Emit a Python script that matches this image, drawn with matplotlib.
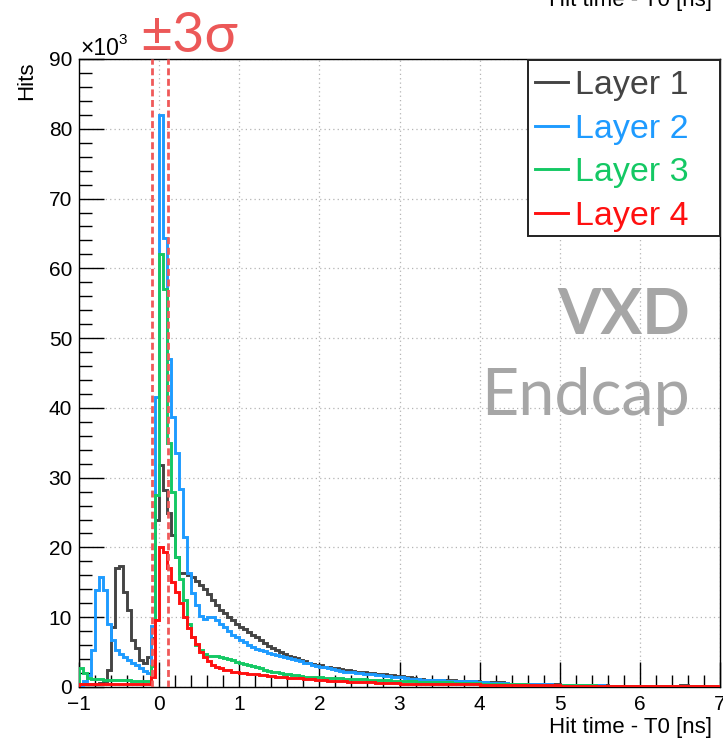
import numpy as np
import matplotlib
matplotlib.use("Agg")
import matplotlib.pyplot as plt
from matplotlib.ticker import MultipleLocator
from matplotlib.patches import Rectangle
from matplotlib.lines import Line2D

# ---------------- data (hits in units of 10^3, 160 bins of 0.05 ns) ----------------
x_min, x_max, n_bins = -1.0, 7.0, 160

layer1 = [0.5, 0.5, 0.5, 0.5, 0.5, 0.6, 0.8, 2.5, 8.6, 17.0,
          17.3, 13.6, 11.0, 6.7, 5.6, 3.9, 3.4, 4.3, 7.0, 24.0,
          31.8, 28.2, 25.0, 21.8, 18.6, 16.3, 16.3, 16.0, 15.8, 15.2,
          14.6, 14.0, 13.3, 12.4, 11.7, 11.1, 10.6, 10.1, 9.6, 9.1,
          8.6, 8.3, 7.9, 7.5, 7.1, 6.7, 6.3, 5.9, 5.6, 5.3,
          5.0, 4.7, 4.5, 4.3, 4.1, 3.9, 3.7, 3.5, 3.3, 3.2,
          3.1, 2.9, 2.8, 2.7, 2.7, 2.6, 2.5, 2.4, 2.3, 2.2,
          2.2, 2.1, 2.0, 2.0, 1.9, 1.8, 1.8, 1.7, 1.7, 1.6,
          1.6, 1.5, 1.4, 1.3, 1.2, 1.1, 1.05, 1.0, 1.0, 1.0,
          1.0, 0.95, 0.95, 0.95, 0.9, 0.9, 0.9, 0.85, 0.85, 0.8,
          0.75, 0.7, 0.7, 0.7, 0.65, 0.65, 0.6, 0.5, 0.5, 0.5,
          0.45, 0.45, 0.45, 0.45, 0.45, 0.4, 0.4, 0.4, 0.4, 0.4,
          0.35, 0.35, 0.3, 0.3, 0.3, 0.3, 0.3, 0.3, 0.3, 0.3,
          0.25, 0.25, 0.2, 0.2, 0.2, 0.2, 0.2, 0.2, 0.2, 0.2,
          0.2, 0.2, 0.2, 0.2, 0.2, 0.2, 0.2, 0.15, 0.15, 0.15,
          0.3, 0.3, 0.15, 0.15, 0.15, 0.1, 0.1, 0.1, 0.1, 0.1]

layer2 = [0.3, 0.8, 1.7, 5.3, 13.9, 15.8, 13.9, 9.0, 6.7, 5.3,
          4.8, 4.3, 3.9, 3.5, 3.1, 2.7, 2.3, 2.0, 8.8, 41.5,
          82.0, 64.3, 47.0, 38.7, 33.5, 28.4, 21.5, 16.3, 13.5, 11.8,
          10.2, 9.7, 10.1, 10.0, 9.6, 9.1, 8.6, 8.0, 7.5, 7.1,
          6.7, 6.4, 6.0, 5.7, 5.5, 5.3, 5.1, 4.9, 4.7, 4.6,
          4.4, 4.3, 4.1, 4.0, 3.9, 3.7, 3.5, 3.4, 3.2, 3.0,
          2.9, 2.8, 2.7, 2.6, 2.4, 2.3, 2.2, 2.1, 2.1, 2.0,
          2.0, 1.9, 1.9, 1.8, 1.7, 1.7, 1.6, 1.6, 1.5, 1.5,
          1.4, 1.3, 1.2, 1.1, 1.1, 1.05, 1.0, 1.0, 1.0, 0.95,
          0.95, 0.9, 0.9, 0.9, 0.85, 0.85, 0.8, 0.8, 0.8, 0.75,
          0.7, 0.65, 0.6, 0.6, 0.6, 0.55, 0.55, 0.5, 0.5, 0.45,
          0.45, 0.45, 0.45, 0.4, 0.4, 0.4, 0.4, 0.4, 0.35, 0.35,
          0.35, 0.3, 0.3, 0.3, 0.3, 0.3, 0.3, 0.25, 0.25, 0.25,
          0.25, 0.2, 0.2, 0.2, 0.2, 0.2, 0.2, 0.2, 0.2, 0.2,
          0.2, 0.2, 0.15, 0.15, 0.15, 0.15, 0.15, 0.1, 0.1, 0.1,
          0.1, 0.1, 0.1, 0.1, 0.1, 0.1, 0.1, 0.1, 0.1, 0.1]

layer3 = [2.7, 2.0, 1.3, 1.2, 1.1, 1.1, 1.0, 1.0, 1.0, 1.0,
          1.0, 0.95, 0.95, 0.9, 0.9, 0.9, 0.9, 0.9, 3.0, 27.5,
          62.0, 57.0, 35.0, 28.0, 18.6, 15.5, 12.5, 9.0, 7.2, 6.0,
          5.3, 4.8, 4.5, 4.4, 4.4, 4.3, 4.2, 4.0, 3.8, 3.6,
          3.4, 3.3, 3.1, 3.0, 2.8, 2.7, 2.5, 2.3, 2.2, 2.1,
          2.0, 1.9, 1.8, 1.7, 1.65, 1.6, 1.5, 1.5, 1.45, 1.4,
          1.4, 1.35, 1.3, 1.3, 1.3, 1.25, 1.2, 1.2, 1.15, 1.1,
          1.1, 1.1, 1.05, 1.0, 1.0, 1.0, 0.95, 0.95, 0.9, 0.9,
          0.9, 0.85, 0.8, 0.8, 0.75, 0.75, 0.7, 0.7, 0.7, 0.7,
          0.65, 0.65, 0.65, 0.6, 0.6, 0.6, 0.6, 0.6, 0.55, 0.55,
          0.5, 0.5, 0.5, 0.5, 0.45, 0.45, 0.45, 0.4, 0.4, 0.4,
          0.4, 0.4, 0.35, 0.35, 0.35, 0.35, 0.35, 0.35, 0.3, 0.3,
          0.3, 0.3, 0.3, 0.3, 0.25, 0.25, 0.25, 0.25, 0.25, 0.2,
          0.2, 0.2, 0.2, 0.2, 0.2, 0.2, 0.15, 0.15, 0.15, 0.15,
          0.15, 0.15, 0.15, 0.15, 0.1, 0.1, 0.1, 0.1, 0.1, 0.1,
          0.1, 0.1, 0.1, 0.1, 0.1, 0.1, 0.1, 0.1, 0.1, 0.1]

layer4 = [0.4, 0.4, 0.4, 0.4, 0.4, 0.4, 0.4, 0.4, 0.4, 0.4,
          0.4, 0.4, 0.4, 0.4, 0.4, 0.4, 0.4, 0.45, 1.5, 9.6,
          20.0, 19.3, 17.0, 15.0, 13.6, 12.0, 10.0, 8.4, 7.2, 6.1,
          5.0, 4.3, 3.7, 3.2, 2.9, 2.7, 2.5, 2.4, 2.2, 2.1,
          2.0, 1.95, 1.9, 1.85, 1.8, 1.7, 1.65, 1.6, 1.55, 1.5,
          1.45, 1.4, 1.35, 1.3, 1.3, 1.25, 1.2, 1.15, 1.1, 1.05,
          1.0, 0.95, 0.9, 0.9, 0.85, 0.8, 0.8, 0.75, 0.75, 0.7,
          0.7, 0.7, 0.65, 0.65, 0.6, 0.6, 0.6, 0.55, 0.55, 0.55,
          0.5, 0.5, 0.5, 0.5, 0.5, 0.45, 0.45, 0.45, 0.45, 0.45,
          0.4, 0.4, 0.4, 0.4, 0.4, 0.4, 0.4, 0.4, 0.4, 0.4,
          0.35, 0.35, 0.35, 0.35, 0.3, 0.3, 0.3, 0.3, 0.3, 0.3,
          0.25, 0.25, 0.25, 0.25, 0.25, 0.25, 0.25, 0.25, 0.25, 0.25,
          0.2, 0.2, 0.2, 0.2, 0.2, 0.2, 0.2, 0.2, 0.2, 0.2,
          0.15, 0.15, 0.15, 0.15, 0.15, 0.15, 0.15, 0.15, 0.15, 0.15,
          0.15, 0.15, 0.1, 0.1, 0.1, 0.1, 0.1, 0.1, 0.1, 0.1,
          0.1, 0.1, 0.1, 0.1, 0.1, 0.1, 0.1, 0.1, 0.1, 0.1]

labels = ["Layer 1", "Layer 2", "Layer 3", "Layer 4"]
colors = ["#444444", "#1e9bff", "#14c864", "#ff1010"]
sigma_window = [-0.09, 0.105]

# ---------------- figure ----------------
W, H = 723, 738
fig = plt.figure(figsize=(W / 100, H / 100), dpi=100)
plt.rcParams["font.family"] = ["Liberation Sans", "DejaVu Sans"]


def fx(px):
    return px / W


def fy(py):
    return 1 - py / H


ax = fig.add_axes([fx(79), fy(687), (720 - 79) / W, (687 - 59) / H])

edges = np.linspace(x_min, x_max, n_bins + 1)
for vals, col, lab in zip([layer1, layer2, layer3, layer4], colors, labels):
    ax.stairs(vals, edges, baseline=0, color=col, lw=2.1, label=lab, zorder=3)

for xv in sigma_window:
    ax.axvline(xv, color="#ef5a5a", lw=2.0, ls=(0, (2.5, 1.3)), zorder=4)

ax.set_xlim(x_min, x_max)
ax.set_ylim(0, 90)
ax.xaxis.set_major_locator(MultipleLocator(1))
ax.xaxis.set_minor_locator(MultipleLocator(0.2))
ax.yaxis.set_major_locator(MultipleLocator(10))
ax.yaxis.set_minor_locator(MultipleLocator(2))
ax.tick_params(which="major", direction="in", length=18, width=1, labelsize=15,
               top=False, right=False)
ax.tick_params(axis="x", which="major", pad=6)
ax.tick_params(axis="y", which="major", pad=5)
ax.tick_params(which="minor", direction="in", length=9, width=1, top=False, right=False)
ax.grid(which="major", color="#b4b4b4", lw=0.9, ls=(0, (1, 2.5)))
ax.set_axisbelow(True)
for s in ax.spines.values():
    s.set_linewidth(1.0)

# axis titles
fig.text(fx(712), fy(733), "Hit time - T0 [ns]", ha="right", va="baseline", fontsize=16)
fig.text(fx(712), fy(6), "Hit time - T0 [ns]", ha="right", va="baseline", fontsize=16)
fig.text(fx(27), fy(61), "Hits", rotation=90, ha="center", va="top", fontsize=16)
fig.text(fx(80), fy(55), "\u00d710", ha="left", va="baseline", fontsize=16.5)
fig.text(fx(118), fy(44), "3", ha="left", va="baseline", fontsize=11)

# annotations
fig.text(fx(140), fy(52), "\u00b13\u03c3", ha="left", va="baseline", fontsize=40,
         color="#ec5858", family=["Lato", "DejaVu Sans"])
fig.text(fx(690), fy(334), "VXD", ha="right", va="baseline", fontsize=45,
         color="#a6a6a6", fontweight="bold", family=["Lato", "DejaVu Sans"])
fig.text(fx(690), fy(415), "Endcap", ha="right", va="baseline", fontsize=46.5,
         color="#a6a6a6", family=["Lato", "DejaVu Sans"])

# legend (manual ROOT-style box)
fig.patches.append(Rectangle((fx(528), fy(236)), fx(720) - fx(528), fy(60) - fy(236),
                             transform=fig.transFigure, facecolor="white",
                             edgecolor="#222222", lw=1.4, zorder=5))
rows = [82, 126, 169, 213]
for ry, col, lab in zip(rows, colors, labels):
    fig.lines.append(Line2D([fx(535), fx(568)], [fy(ry), fy(ry)], transform=fig.transFigure,
                            color=col, lw=2.1, zorder=6))
    fig.text(fx(575), fy(ry + 12), lab, ha="left", va="baseline", fontsize=24.5,
             color=col, zorder=7)

fig.savefig("out.png", dpi=100)
